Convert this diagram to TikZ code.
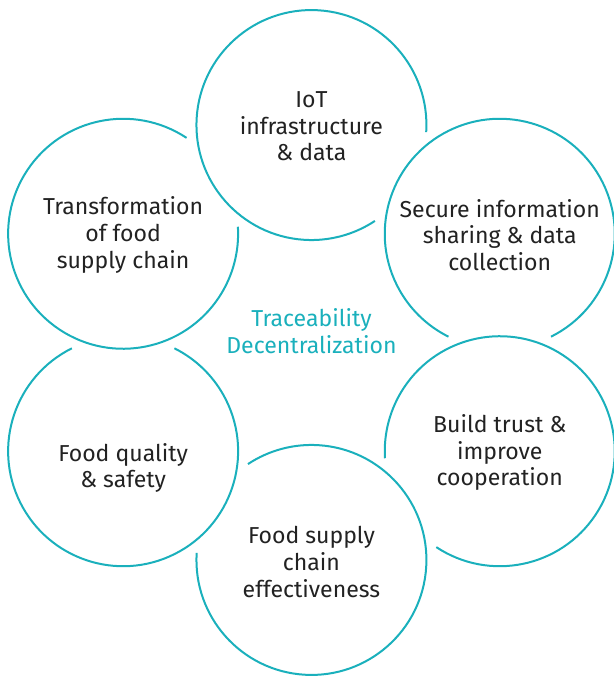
\documentclass[tikz,border=0pt]{standalone}
\usepackage{fontspec}
\setmainfont{Fira Sans}
\usepackage{xcolor}
\usetikzlibrary{positioning,calc}
\definecolor{ringteal}{RGB}{26,176,188}
\definecolor{ink}{RGB}{34,34,34}

\begin{document}
\begin{tikzpicture}[
		ring/.style={draw=ringteal, line width=1.5pt},
		lbl/.style={align=center, text=ink, font=\fontsize{17.3}{20}\selectfont},
	]
		\useasboundingbox (-233.6pt,-250.9pt) rectangle (226.9pt,256.9pt);
		% six rings, each one cut where its neighbour lies over it
		\foreach \a/\n in {90/top,150/ul,210/ll,270/bot,330/lr,30/ur}{
			\coordinate (\n) at (\a:163.1pt);
			\draw[ring] ($(\n)+(\a-93.5:86.25pt)$) arc[start angle=\a-93.5, end angle=\a+213.5, radius=86.25pt];
		}
		\node[lbl] (iot) at ([yshift=-1pt]top) {IoT\\infrastructure\\\& data};
		\node[lbl] (secure) at ([yshift=-1pt]ur) {Secure information\\sharing \& data\\collection};
		\node[lbl] (trust) at ([yshift=-1pt]lr) {Build trust \&\\improve\\cooperation};
		\node[lbl] (effect) at ([yshift=-1.5pt]bot) {Food supply\\chain\\effectiveness};
		\node[lbl] (quality) at ([yshift=-12.5pt]ll) {Food quality\\\& safety};
		\node[lbl] (transf) at ([yshift=-1pt]ul) {Transformation\\of food\\supply chain};
		\node[lbl, text=ringteal] (mid) at (0,8.6pt) {Traceability\\Decentralization};
	\end{tikzpicture}
\end{document}
